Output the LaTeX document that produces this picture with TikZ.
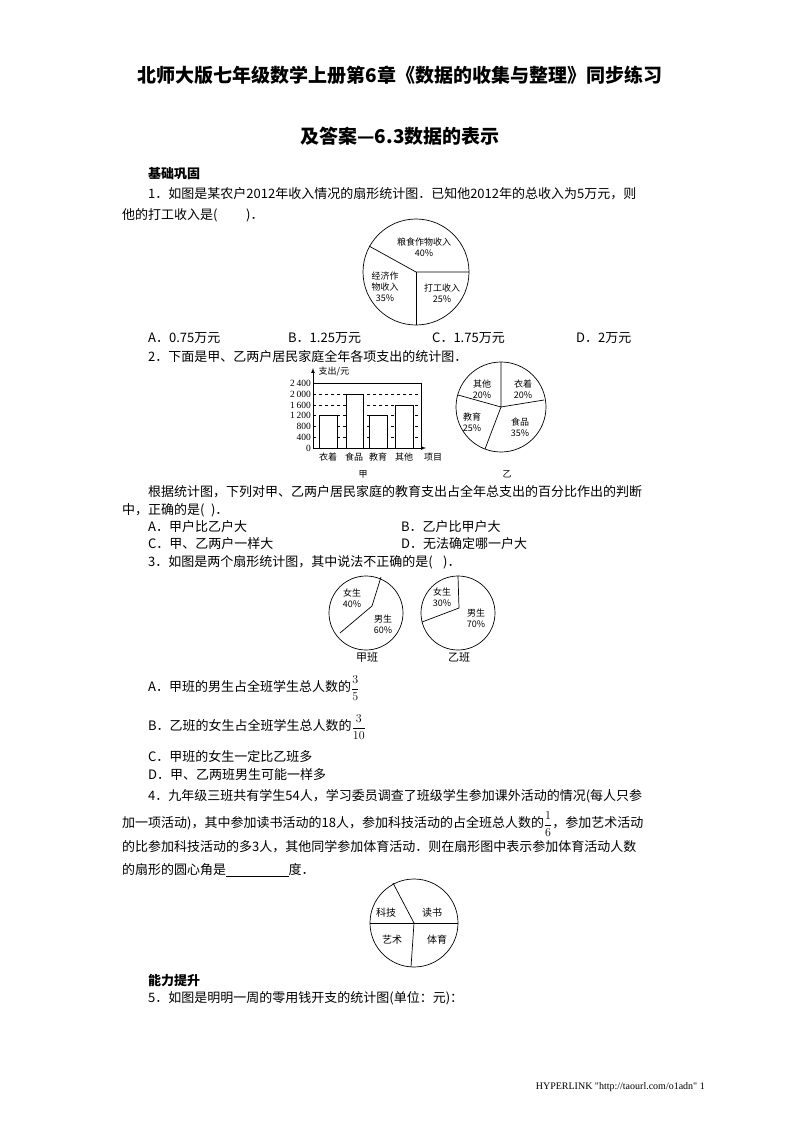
\documentclass[tikz,border=0pt]{standalone}
\usepackage{fontspec}
\usepackage{amsmath}
\setmainfont{Noto Sans CJK SC}
\newfontfamily\latin{Liberation Serif}
\begin{document}
\begin{tikzpicture}[x=1pt,y=-1pt,
  txt/.style={anchor=west,inner sep=0pt,font=\fontsize{13}{15}\selectfont},
  ctxt/.style={inner sep=0pt,font=\fontsize{13}{15}\selectfont},
  lab/.style={inner sep=0pt,align=center,font=\fontsize{9}{11}\selectfont},
  ttl/.style={inner sep=0pt,font=\fontsize{19}{22}\selectfont\bfseries},
  ln/.style={line width=0.7pt}]
\useasboundingbox (0,0) rectangle (800,1132);
\node[ttl] (t1) at (400,75) {北师大版七年级数学上册第6章《数据的收集与整理》同步练习};
\node[ttl] (t2) at (400,136) {及答案—6.3数据的表示};
\node[txt,font=\fontsize{13}{15}\selectfont\bfseries] (h1) at (148,174) {基础巩固};
\node[txt] (q1a) at (148,194) {1．如图是某农户2012年收入情况的扇形统计图．已知他2012年的总收入为5万元，则};
\node[txt] (q1b) at (122,215) {他的打工收入是(\hspace{2.2em})．};
% pie 1
\coordinate (c1) at (416,272);
\draw[ln] (c1) circle (53);
\draw[ln] (369,246) -- (c1) -- (469,272);
\draw[ln] (c1) -- (416,325);
\node[lab] (p1a) at (424,247) {粮食作物收入\\40\%};
\node[lab] (p1b) at (385,287) {经济作\\物收入\\35\%};
\node[lab] (p1c) at (442,293) {打工收入\\25\%};
\node[txt] (o1a) at (148,338) {A．0.75万元};
\node[txt] (o1b) at (288,338) {B．1.25万元};
\node[txt] (o1c) at (432,338) {C．1.75万元};
\node[txt] (o1d) at (576,338) {D．2万元};
\node[txt] (q2) at (148,357) {2．下面是甲、乙两户居民家庭全年各项支出的统计图．};
% bar chart
\coordinate (o) at (313,448);
\coordinate (ytop) at (313,368);
\coordinate (xend) at (426,448);
\draw[ln,-latex] (o) -- (ytop);
\draw[ln,-latex] (o) -- (xend);
\draw[ln] (313,383) -- (421,383) -- (421,448);
\foreach \v/\yy in {2000/404.7,1600/415.5,1200/426.3,800/437.2,400/448} {}
\foreach \yy in {426.3,437.2} \draw[dashed,line width=0.5pt] (313,\yy) -- (421,\yy);
\draw[dashed,line width=0.5pt] (313,394.2) -- (421,394.2);
\draw[dashed,line width=0.5pt] (313,405) -- (421,405);
\draw[dashed,line width=0.5pt] (313,415.5) -- (421,415.5);
\draw[ln,fill=white] (319,448) rectangle (337,415.5);
\draw[ln,fill=white] (346,448) rectangle (363,394.2);
\draw[ln,fill=white] (369,448) rectangle (387,415.5);
\draw[ln,fill=white] (395,448) rectangle (413,405);
\foreach \t/\yy in {2\,400/383,2\,000/394.2,1\,600/405,1\,200/415.5,800/426.3,400/437.2,0/448}
  \node[lab,anchor=east,font=\fontsize{9.5}{11}\selectfont\latin] at (311,\yy) {\t};
\node[lab] (yl) at (334,372) {支出/元};
\node[lab] (c1l) at (328,457) {衣着};
\node[lab] (c2l) at (354,457) {食品};
\node[lab] (c3l) at (378,457) {教育};
\node[lab] (c4l) at (404,457) {其他};
\node[lab] (c5l) at (433,457) {项目};
\node[lab] (jia) at (363,474) {甲};
% pie 乙
\coordinate (c2) at (501,407);
\draw[ln] (c2) circle (45);
\draw[ln] (501,362) -- (c2) -- (458,395);
\draw[ln] (c2) -- (544,400);
\draw[ln] (c2) -- (485,449);
\node[lab] (p2a) at (482,389) {其他\\20\%};
\node[lab] (p2b) at (523,389) {衣着\\20\%};
\node[lab] (p2c) at (472,422) {教育\\25\%};
\node[lab] (p2d) at (520,427) {食品\\35\%};
\node[lab] (yi) at (507,474) {乙};
\node[txt] (q2b) at (148,492) {根据统计图，下列对甲、乙两户居民家庭的教育支出占全年总支出的百分比作出的判断};
\node[txt] (q2c) at (122,510) {中，正确的是(\hspace{0.5em})．};
\node[txt] (o2a) at (148,527) {A．甲户比乙户大};
\node[txt] (o2b) at (401,527) {B．乙户比甲户大};
\node[txt] (o2c) at (148,544) {C．甲、乙两户一样大};
\node[txt] (o2d) at (401,544) {D．无法确定哪一户大};
\node[txt] (q3) at (148,562) {3．如图是两个扇形统计图，其中说法不正确的是(\hspace{0.8em})．};
% pies Q3
\coordinate (c3) at (366,613);
\draw[ln] (c3) circle (37);
\draw[ln] (381,577) -- (372,606) -- (340,633);
\node[lab] (p3a) at (352,598) {女生\\40\%};
\node[lab] (p3b) at (383,624) {男生\\60\%};
\node[lab,font=\fontsize{11}{13}\selectfont] (jb) at (367,657) {甲班};
\coordinate (c4) at (458,613);
\draw[ln] (c4) circle (37);
\draw[ln] (458,576) -- (459,608) -- (422,622);
\node[lab] (p4a) at (442,597) {女生\\30\%};
\node[lab] (p4b) at (476,618) {男生\\70\%};
\node[lab,font=\fontsize{11}{13}\selectfont] (yb) at (459,657) {乙班};
\node[txt] (o3a) at (148,688) {A．甲班的男生占全班学生总人数的$\dfrac{3}{5}$};
\node[txt] (o3b) at (148,727) {B．乙班的女生占全班学生总人数的$\dfrac{3}{10}$};
\node[txt] (o3c) at (148,757) {C．甲班的女生一定比乙班多};
\node[txt] (o3d) at (148,775) {D．甲、乙两班男生可能一样多};
\node[txt] (q4a) at (148,796) {4．九年级三班共有学生54人，学习委员调查了班级学生参加课外活动的情况(每人只参};
\node[txt] (q4b) at (122,824) {加一项活动)，其中参加读书活动的18人，参加科技活动的占全班总人数的$\dfrac{1}{6}$，参加艺术活动};
\node[txt] (q4c) at (122,847) {的比参加科技活动的多3人，其他同学参加体育活动．则在扇形图中表示参加体育活动人数};
\node[txt] (q4d) at (122,870) {的扇形的圆心角是\underline{\hspace{4.8em}}度．};
% pie Q4
\coordinate (c5) at (414,923);
\draw[ln] (c5) circle (44);
\draw[ln] (370,923) -- (458,923);
\draw[ln] (393,883) -- (c5) -- (411,967);
\node[lab,font=\fontsize{10}{12}\selectfont] (p5a) at (386,913) {科技};
\node[lab,font=\fontsize{10}{12}\selectfont] (p5b) at (432,913) {读书};
\node[lab,font=\fontsize{10}{12}\selectfont] (p5c) at (392,940) {艺术};
\node[lab,font=\fontsize{10}{12}\selectfont] (p5d) at (437,940) {体育};
\node[txt,font=\fontsize{13}{15}\selectfont\bfseries] (h2) at (148,981) {能力提升};
\node[txt] (q5) at (148,998) {5．如图是明明一周的零用钱开支的统计图(单位：元)：};
\node[inner sep=0pt,anchor=east,font=\fontsize{10}{12}\selectfont\latin] (ft) at (705,1087) {HYPERLINK "http://taourl.com/o1adn" 1};
\end{tikzpicture}
\end{document}
